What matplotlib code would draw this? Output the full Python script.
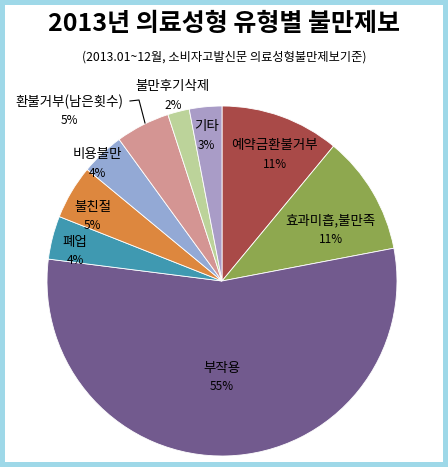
import matplotlib
matplotlib.use("Agg")
import matplotlib.pyplot as plt
from matplotlib.patches import Rectangle

plt.rcParams['font.family'] = ['Noto Sans CJK KR', 'DejaVu Sans']

# data (clockwise from 12 o'clock)
categories = ['예약금환불거부', '효과미흡,불만족', '부작용', '폐업', '불친절',
              '비용불만', '환불거부(남은횟수)', '불만후기삭제', '기타']
shares = [11, 11, 55, 4, 5, 4, 5, 2, 3]
colors = ['#A94A48', '#8EA84F', '#725A8E', '#3F99B1', '#DD873E',
          '#93A9D5', '#D49593', '#BCD39A', '#A99CC7']

# label block centres in pie-radius units (where excel put them)
label_pos = [(0.30, 0.72), (0.62, 0.29), (0.0, -0.55), (-0.84, 0.17),
             (-0.74, 0.37), (-0.71, 0.67), (-0.87, 0.97), (-0.28, 1.06),
             (-0.09, 0.83)]

W, H = 448, 467
fig = plt.figure(figsize=(W / 100, H / 100), dpi=100)
fig.patch.set_facecolor('#9ED8E8')
b = 5
fig.patches.append(Rectangle((b / W, b / H), 1 - 2 * b / W, 1 - 2 * b / H,
                             transform=fig.transFigure, facecolor='white',
                             edgecolor='none', zorder=-5))

ax = fig.add_axes([0, 0, 1, 1])
ax.set_facecolor('none')
ax.set_zorder(2)

ax.pie(shares, colors=colors, startangle=90, counterclock=False,
       radius=1.0, wedgeprops=dict(edgecolor='white', linewidth=0.6))

R = 175.0
cx, cy = 222, 281
ax.set_aspect('auto')
ax.set_xlim((0 - cx) / R, (W - cx) / R)
ax.set_ylim((cy - H) / R, (cy - 0) / R)
ax.axis('off')

for name, val, (x, y) in zip(categories, shares, label_pos):
    ax.text(x, y + 0.055, name, ha='center', va='center', fontsize=9.7)
    ax.text(x, y - 0.055, f'{val}%', ha='center', va='center', fontsize=8.5)

# leader line for 환불거부(남은횟수)
ax.plot([(130 - cx) / R, (139 - cx) / R, (145 - cx) / R],
        [(cy - 101) / R, (cy - 100) / R, (cy - 123) / R],
        color='black', linewidth=0.8)

fig.text(0.5, 1 - 24 / H, '2013년 의료성형 유형별 불만제보', ha='center',
         va='center', fontsize=18, fontweight='bold')
fig.text(0.5, 1 - 57 / H, '(2013.01~12월, 소비자고발신문 의료성형불만제보기준)',
         ha='center', va='center', fontsize=8.8)

fig.savefig('out.png', dpi=100)
